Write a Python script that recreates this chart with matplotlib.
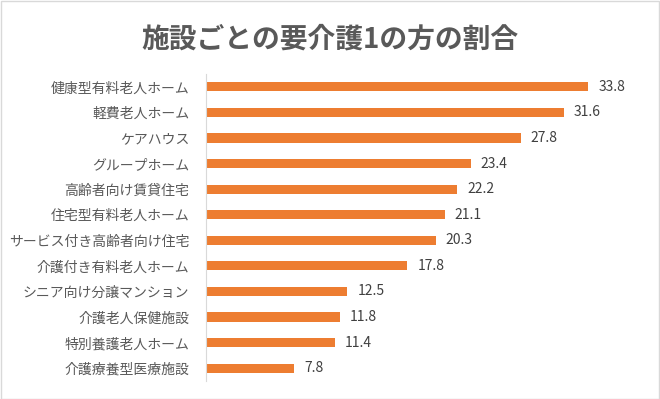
import matplotlib
matplotlib.use("Agg")
import matplotlib.pyplot as plt
from matplotlib.patches import Rectangle

plt.rcParams['font.family'] = ['Noto Sans CJK JP', 'DejaVu Sans']

title = "施設ごとの要介護1の方の割合"
facilities = ["健康型有料老人ホーム", "軽費老人ホーム", "ケアハウス", "グループホーム",
              "高齢者向け賃貸住宅", "住宅型有料老人ホーム", "サービス付き高齢者向け住宅",
              "介護付き有料老人ホーム", "シニア向け分譲マンション", "介護老人保健施設",
              "特別養護老人ホーム", "介護療養型医療施設"]
ratios = [33.8, 31.6, 27.8, 23.4, 22.2, 21.1, 20.3, 17.8, 12.5, 11.8, 11.4, 7.8]

W, H = 660, 399
fig = plt.figure(figsize=(W / 100, H / 100), dpi=100)
fig.patches.append(Rectangle((0.5 / W, 0.5 / H), 1 - 1.5 / W, 1 - 1.5 / H,
                             transform=fig.transFigure, fill=False,
                             edgecolor="#d9d9d9", linewidth=1))

ax = fig.add_axes([206 / W, 1 - 381 / H, 396 / W, 307 / H])
ypos = list(range(len(facilities)))
ax.barh(ypos, ratios, height=0.36, color="#ed7d31")
ax.set_ylim(len(facilities) - 0.5, -0.5)
ax.set_xlim(0, 35)
ax.set_yticks(ypos)
ax.set_yticklabels(facilities, fontsize=10, color="#595959")
ax.tick_params(axis="y", length=0, pad=12)
ax.set_xticks([])
for s in ["top", "right", "bottom"]:
    ax.spines[s].set_visible(False)
ax.spines["left"].set_color("#d9d9d9")

for y, v in zip(ypos, ratios):
    ax.text(v + 0.9, y, f"{v}", va="center", ha="left", fontsize=10, color="#404040")

fig.text(0.5, 1 - 40 / H, title, ha="center", va="center", fontsize=20,
         fontweight="bold", color="#595959")

fig.savefig("out.png", dpi=100)
